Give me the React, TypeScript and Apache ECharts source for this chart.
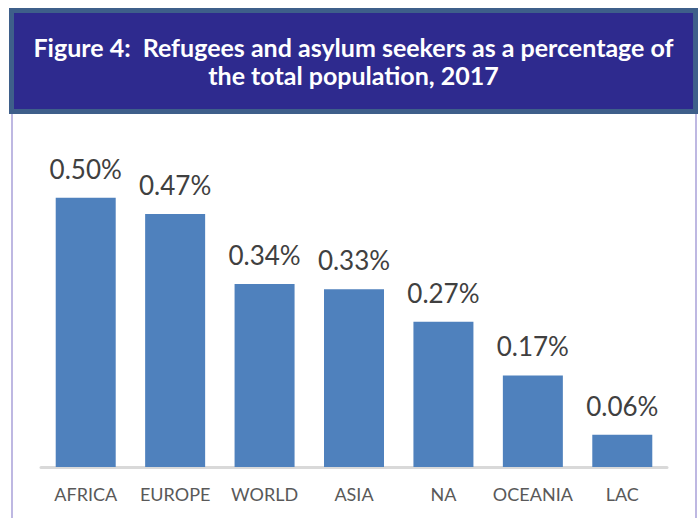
import React, { useEffect, useRef } from "react";
import * as echarts from "echarts";

const categories = ["AFRICA", "EUROPE", "WORLD", "ASIA", "NA", "OCEANIA", "LAC"];
const values = [0.5, 0.47, 0.34, 0.33, 0.27, 0.17, 0.06];
const titleLines = [
  "Figure 4:  Refugees and asylum seekers as a percentage of",
  "the total population, 2017",
];

export default function App() {
  const ref = useRef<HTMLDivElement>(null);
  useEffect(() => {
    const chart = echarts.init(ref.current!, null, { renderer: "svg" });
    chart.setOption({
      animation: false,
      backgroundColor: "#ffffff",
      grid: { left: 41, right: 32, top: 144, bottom: 51 },
      xAxis: {
        type: "category",
        data: categories,
        axisLine: { lineStyle: { color: "#d9d9d9", width: 3 } },
        axisTick: { show: false },
        axisLabel: {
          color: "#595959",
          fontSize: 18,
          fontFamily: "Lato",
          margin: 18,
          interval: 0,
        },
      },
      yAxis: {
        type: "value",
        min: 0,
        max: 0.6,
        show: false,
        splitLine: { show: false },
      },
      series: [
        {
          type: "bar",
          data: values,
          barWidth: 60,
          itemStyle: { color: "#4f81bd" },
          label: {
            show: true,
            position: "top",
            distance: 16,
            color: "#404040",
            fontSize: 26,
            fontFamily: "Lato",
            formatter: (p: any) => p.value.toFixed(2) + "%",
          },
        },
      ],
      graphic: [
        {
          type: "line",
          shape: { x1: 12, y1: 112, x2: 12, y2: 518 },
          style: { stroke: "#a9a1d8", lineWidth: 1.5 },
        },
        {
          type: "line",
          shape: { x1: 696, y1: 112, x2: 696, y2: 518 },
          style: { stroke: "#a9a1d8", lineWidth: 1.5 },
        },
        {
          type: "rect",
          shape: { x: 11.5, y: 10.5, width: 684, height: 101 },
          style: { fill: "#2e2a8e", stroke: "#3e5f8a", lineWidth: 5 },
        },
        {
          type: "text",
          x: 353.5,
          y: 46.5,
          style: {
            text: titleLines[0],
            fill: "#ffffff",
            font: "bold 25px Lato",
            align: "center",
            verticalAlign: "middle",
          },
        },
        {
          type: "text",
          x: 353.5,
          y: 75,
          style: {
            text: titleLines[1],
            fill: "#ffffff",
            font: "bold 25px Lato",
            align: "center",
            verticalAlign: "middle",
          },
        },
      ],
    });
    return () => chart.dispose();
  }, []);
  return (
    <div
      ref={ref}
      style={{ position: "fixed", left: 0, top: 0, width: 699, height: 518 }}
    />
  );
}
